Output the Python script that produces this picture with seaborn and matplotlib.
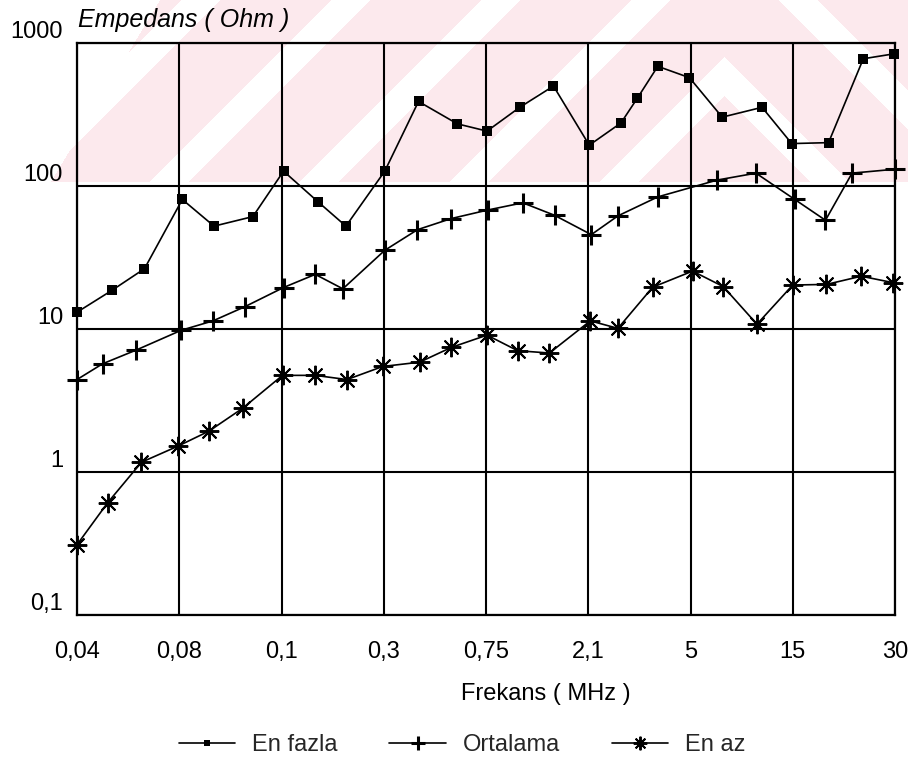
import numpy as np
import pandas as pd
import matplotlib
matplotlib.use("Agg")
import matplotlib.pyplot as plt
import seaborn as sns

# ---- data ----
tick_labels = ["0,04", "0,08", "0,1", "0,3", "0,75", "2,1", "5", "15", "30"]
ytick_values = [0.1, 1, 10, 100, 1000]
ytick_labels = ["0,1", "1", "10", "100", "1000"]

fazla_x = [0, 0.34, 0.66, 1.03, 1.34, 1.72, 2.02, 2.36, 2.63, 3.01, 3.34, 3.72, 4.01,
           4.33, 4.66, 5.01, 5.32, 5.48, 5.68, 5.99, 6.31, 6.70, 6.99, 7.35, 7.69, 7.99]
fazla_y = [13.1, 18.6, 26.4, 80.5, 52.4, 61.1, 127, 77.2, 52.4, 127, 390, 272, 242,
           355, 500, 193, 276, 411, 687, 572, 303, 355, 198, 201, 776, 840]

orta_x = [0, 0.25, 0.58, 1.02, 1.33, 1.64, 2.02, 2.33, 2.60, 3.01, 3.33, 3.66, 4.02,
          4.36, 4.67, 5.03, 5.29, 5.68, 6.26, 6.64, 7.02, 7.32, 7.58, 8.0]
orta_y = [4.43, 5.71, 7.13, 9.8, 11.4, 14.3, 19.5, 24.1, 19.1, 35.5, 49.5, 59.2, 68,
          76.3, 62.4, 45.7, 61.8, 83.9, 110, 123, 80.5, 57.6, 123, 131]

az_x = [0, 0.30, 0.63, 0.99, 1.29, 1.62, 2.01, 2.33, 2.64, 2.99, 3.35, 3.66, 4.01,
        4.31, 4.62, 5.02, 5.29, 5.63, 6.02, 6.32, 6.65, 7.0, 7.33, 7.67, 7.98]
az_y = [0.31, 0.61, 1.17, 1.52, 1.93, 2.79, 4.74, 4.74, 4.43, 5.47, 5.86, 7.43, 9.06,
        7.05, 6.79, 11.4, 10.1, 19.6, 25.4, 19.8, 10.8, 20.3, 20.5, 23.4, 21.1]

series_names = ["En fazla", "Ortalama", "En az"]

sns.set_theme(style="white")
plt.rcParams["font.family"] = ["Liberation Sans", "DejaVu Sans"]

W, H = 908, 762
fig = plt.figure(figsize=(W / 100, H / 100), dpi=100)

# ---- faint watermark in the background ----
bg = fig.add_axes([0, 0, 1, 1], zorder=0)
yy, xx = np.mgrid[0:H, 0:W].astype(float)
pink = np.array([252, 233, 237]) / 255.0
img = np.ones((H, W, 3))
axis_x = 724.0
xp = axis_x - np.abs(xx - axis_x)
c = xp + yy
white_stripe = np.abs(((c - 350) + 75) % 150 - 75) < 20
left_edge = 50 + (182 - yy) * 0.6
mask = (yy < 182) & (xx > left_edge) & (~white_stripe)
img[mask] = pink
bg.imshow(img, extent=[0, W, H, 0], aspect="auto", interpolation="nearest")
bg.set_xlim(0, W)
bg.set_ylim(H, 0)
bg.axis("off")

# ---- main axes ----
left, right, top, bottom = 77, 895, 43, 615
ax = fig.add_axes([left / W, 1 - bottom / H, (right - left) / W, (bottom - top) / H], zorder=1)
ax.set_facecolor("none")

lw = 1.2
common = dict(ax=ax, color="black", linewidth=lw, linestyle="-", clip_on=False,
              markeredgecolor="black", markerfacecolor="black")
sns.lineplot(x=fazla_x, y=fazla_y, marker="s", markersize=7, markeredgewidth=0,
             label=series_names[0], **common)
sns.lineplot(x=orta_x, y=orta_y, marker="+", markersize=14, markeredgewidth=2.2,
             label=series_names[1], **common)
sns.lineplot(x=az_x, y=az_y, marker=(8, 2, 0), markersize=14, markeredgewidth=1.4,
             label=series_names[2], **common)

ax.set_yscale("log")
ax.set_ylim(0.1, 1000)
ax.set_xlim(0, 8)
ax.set_yticks(ytick_values)
ax.set_yticklabels(ytick_labels)
ax.yaxis.set_minor_locator(matplotlib.ticker.NullLocator())
ax.set_xticks(range(len(tick_labels)))
ax.set_xticklabels(tick_labels)
ax.grid(True, which="major", color="black", lw=1.5)
ax.set_axisbelow(True)
for s in ax.spines.values():
    s.set_color("black")
    s.set_linewidth(1.6)
ax.tick_params(axis="both", length=0, labelsize=17, colors="black")
ax.tick_params(axis="y", pad=10)
ax.tick_params(axis="x", pad=19)
for lab in ax.get_yticklabels():
    lab.set_va("bottom")
ax.set_xlabel("")
ax.set_ylabel("")

fig.text(78 / W, 1 - 20 / H, "Empedans ( Ohm )", ha="left", va="center", fontsize=18,
         style="italic", color="black")
fig.text(546 / W, 1 - 694 / H, "Frekans ( MHz )", ha="center", va="center", fontsize=17,
         color="black")

leg = ax.legend(loc="center", bbox_to_anchor=(462 / W, 1 - 745 / H),
                bbox_transform=fig.transFigure, ncol=3, frameon=False, fontsize=17,
                handlelength=2.4, handletextpad=0.7, columnspacing=2.2, markerscale=0.7)

fig.savefig("out.png", dpi=100)
